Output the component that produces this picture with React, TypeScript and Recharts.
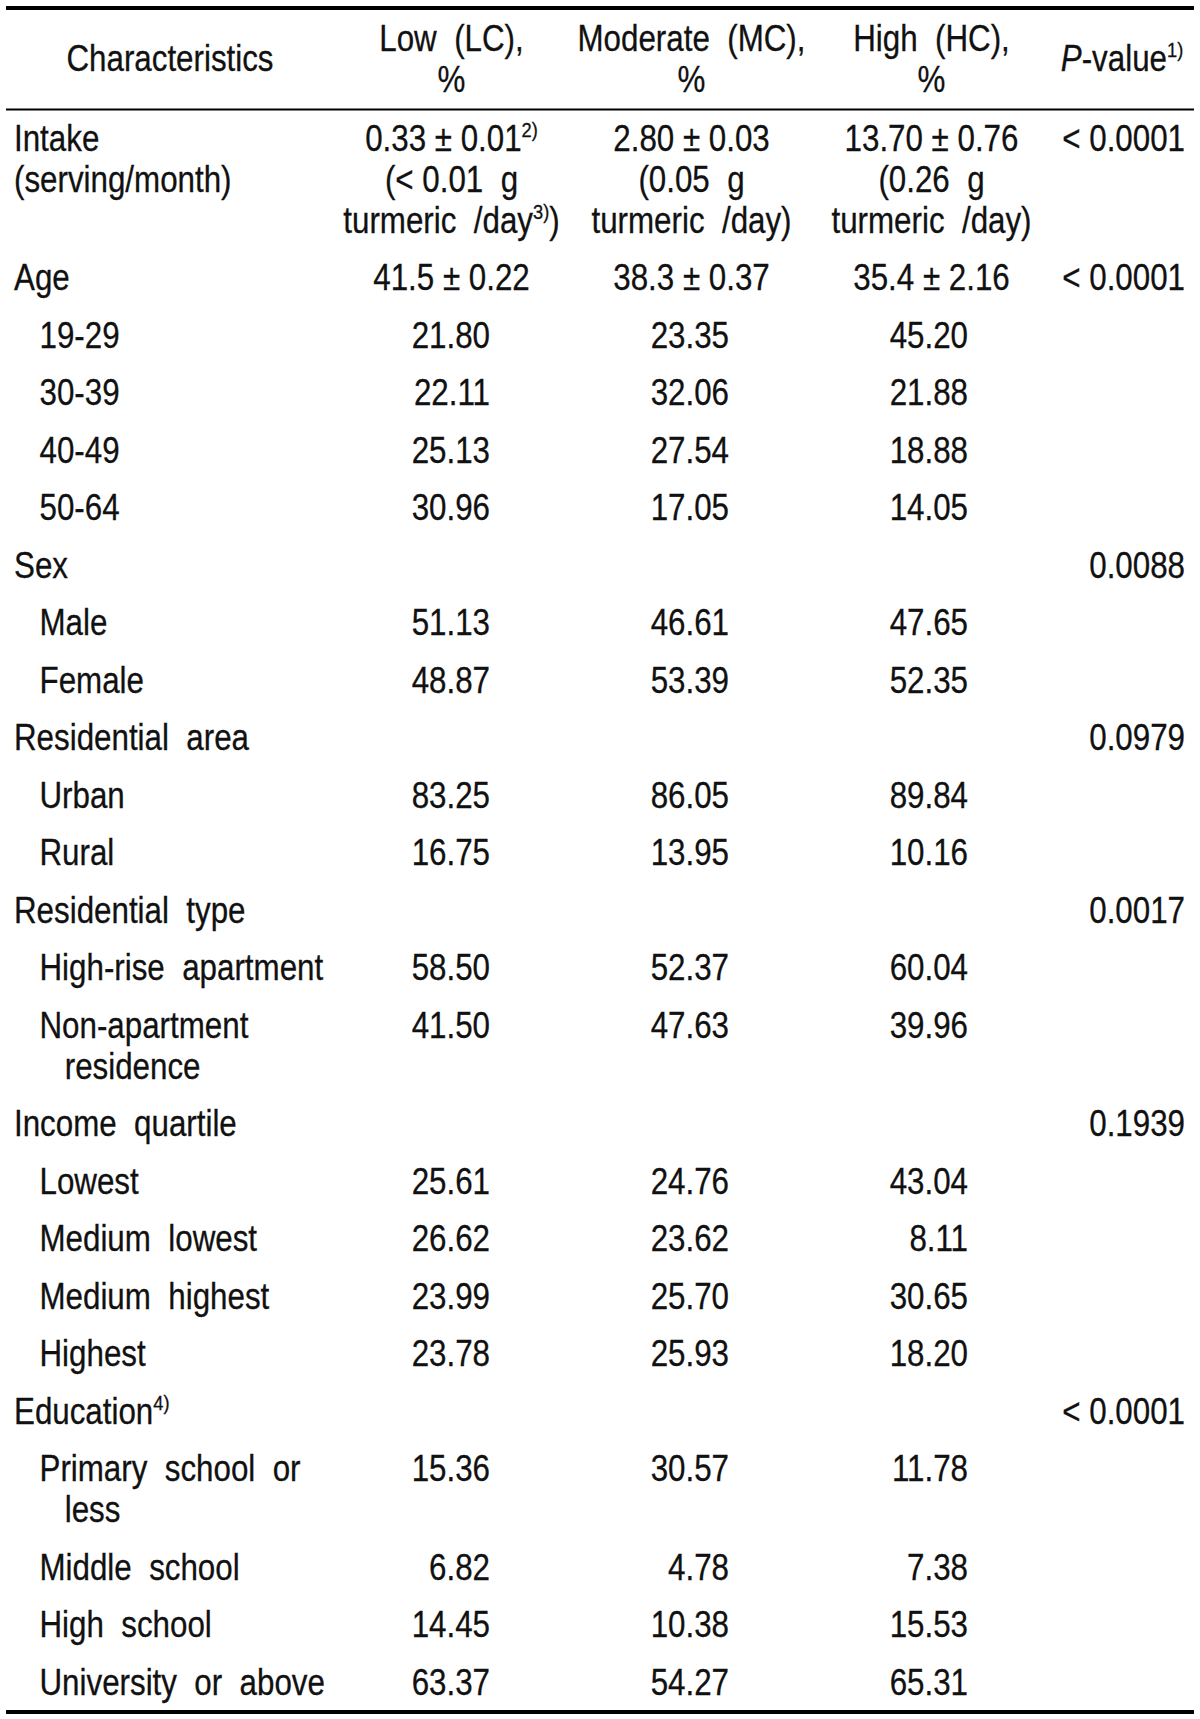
import React from "react";
import { ScatterChart, Scatter, XAxis, YAxis, ReferenceLine } from "recharts";

const WIDTH = 1200;
const HEIGHT = 1719;
const FONT = '"Liberation Sans", Arial, sans-serif';
const FONT_SIZE = 36;
const SQUEEZE = 0.87;
const LINE = 41;
const ROW_GAP = 57.5;

// table content (double spaces mark the wide word gaps of the original)
const headers = [
  "Characteristics",
  "Low  (LC),\n%",
  "Moderate  (MC),\n%",
  "High  (HC),\n%",
  "*P*-value^{1)}",
];

const rowLabels = [
  "Intake\n(serving/month)",
  "Age",
  "19-29",
  "30-39",
  "40-49",
  "50-64",
  "Sex",
  "Male",
  "Female",
  "Residential  area",
  "Urban",
  "Rural",
  "Residential  type",
  "High-rise  apartment",
  "Non-apartment\nresidence",
  "Income  quartile",
  "Lowest",
  "Medium  lowest",
  "Medium  highest",
  "Highest",
  "Education^{4)}",
  "Primary  school  or\nless",
  "Middle  school",
  "High  school",
  "University  or  above",
];

const rowIndent = [0, 0, 1, 1, 1, 1, 0, 1, 1, 0, 1, 1, 0, 1, 1, 0, 1, 1, 1, 1, 0, 1, 1, 1, 1];

const lowValues = [
  "0.33 ± 0.01^{2)}\n(< 0.01  g\nturmeric  /day^{3)})",
  "41.5 ± 0.22",
  "21.80", "22.11", "25.13", "30.96",
  "", "51.13", "48.87",
  "", "83.25", "16.75",
  "", "58.50", "41.50",
  "", "25.61", "26.62", "23.99", "23.78",
  "", "15.36", "6.82", "14.45", "63.37",
];

const moderateValues = [
  "2.80 ± 0.03\n(0.05  g\nturmeric  /day)",
  "38.3 ± 0.37",
  "23.35", "32.06", "27.54", "17.05",
  "", "46.61", "53.39",
  "", "86.05", "13.95",
  "", "52.37", "47.63",
  "", "24.76", "23.62", "25.70", "25.93",
  "", "30.57", "4.78", "10.38", "54.27",
];

const highValues = [
  "13.70 ± 0.76\n(0.26  g\nturmeric  /day)",
  "35.4 ± 2.16",
  "45.20", "21.88", "18.88", "14.05",
  "", "47.65", "52.35",
  "", "89.84", "10.16",
  "", "60.04", "39.96",
  "", "43.04", "8.11", "30.65", "18.20",
  "", "11.78", "7.38", "15.53", "65.31",
];

const pValues = [
  "< 0.0001", "< 0.0001", "", "", "", "",
  "0.0088", "", "",
  "0.0979", "", "",
  "0.0017", "", "",
  "0.1939", "", "", "", "",
  "< 0.0001", "", "", "", "",
];

// column geometry
const labelX = [14, 39.5];
const wrapX = [14, 64.7];
const headerCenter = [170, 451.5, 691.5, 931.5, 1122];
const colCenter = [451.5, 691.5, 931.5];
const colRight = [490, 729, 968];
const pRight = 1185;

type Cell = { x: number; y: number; text: string; anchor: "start" | "middle" | "end" };

function buildCells(): Cell[] {
  const cells: Cell[] = [];
  headers.forEach((h, i) => {
    const lines = h.split("\n");
    lines.forEach((line, k) => {
      const y = lines.length === 1 ? 58 : 38.4 + k * LINE;
      cells.push({ x: headerCenter[i], y, text: line, anchor: "middle" });
    });
  });

  const columns = [lowValues, moderateValues, highValues];
  let y = 138;
  rowLabels.forEach((label, r) => {
    const labelLines = label.split("\n");
    const lvl = rowIndent[r];
    labelLines.forEach((line, k) => {
      cells.push({ x: k === 0 ? labelX[lvl] : wrapX[lvl], y: y + k * LINE, text: line, anchor: "start" });
    });
    let maxLines = labelLines.length;
    columns.forEach((col, c) => {
      const v = col[r];
      if (!v) return;
      const lines = v.split("\n");
      maxLines = Math.max(maxLines, lines.length);
      const centred = v.includes("±");
      lines.forEach((line, k) => {
        cells.push({
          x: centred ? colCenter[c] : colRight[c],
          y: y + k * LINE,
          text: line,
          anchor: centred ? "middle" : "end",
        });
      });
    });
    if (pValues[r]) cells.push({ x: pRight, y, text: pValues[r], anchor: "end" });
    y += ROW_GAP + (maxLines - 1) * LINE;
  });
  return cells;
}

const cells = buildCells();

// ^{..} is a superscript, *..* is italic
function renderRich(line: string) {
  const parts = line.split(/(\^\{[^}]*\}|\*[^*]+\*)/).filter((p) => p !== "");
  let raised = false;
  return parts.map((p, i) => {
    if (p.startsWith("^{")) {
      raised = true;
      return (
        <tspan key={i} dy={-14} fontSize={21}>
          {p.slice(2, -1)}
        </tspan>
      );
    }
    const dy = raised ? 14 : undefined;
    raised = false;
    if (p.startsWith("*")) {
      return (
        <tspan key={i} dy={dy} fontStyle="italic">
          {p.slice(1, -1)}
        </tspan>
      );
    }
    return (
      <tspan key={i} dy={dy}>
        {p}
      </tspan>
    );
  });
}

function CellText(props: any) {
  const { cx, cy, payload } = props;
  if (cx == null || cy == null) return null;
  return (
    <text
      transform={`translate(${cx},${cy + FONT_SIZE * 0.358}) scale(${SQUEEZE},1)`}
      textAnchor={payload.anchor}
      fontFamily={FONT}
      fontSize={FONT_SIZE}
      fill="#111"
      stroke="#111"
      strokeWidth={0.3}
      xmlSpace="preserve"
      style={{ whiteSpace: "pre" }}
    >
      {renderRich(payload.text)}
    </text>
  );
}

export default function App() {
  return (
    <div style={{ position: "absolute", left: 0, top: 0, background: "#fff" }}>
      <ScatterChart width={WIDTH} height={HEIGHT} margin={{ top: 0, right: 0, bottom: 0, left: 0 }}>
        <XAxis type="number" dataKey="x" domain={[0, WIDTH]} hide />
        <YAxis type="number" dataKey="y" domain={[0, HEIGHT]} reversed hide />
        <ReferenceLine segment={[{ x: 6, y: 8 }, { x: 1194, y: 8 }]} stroke="#000" strokeWidth={4} />
        <ReferenceLine segment={[{ x: 6, y: 109.5 }, { x: 1194, y: 109.5 }]} stroke="#000" strokeWidth={2} />
        <ReferenceLine segment={[{ x: 6, y: 1712 }, { x: 1194, y: 1712 }]} stroke="#000" strokeWidth={4} />
        <Scatter data={cells} dataKey="y" shape={(p: any) => <CellText {...p} />} isAnimationActive={false} />
      </ScatterChart>
    </div>
  );
}
